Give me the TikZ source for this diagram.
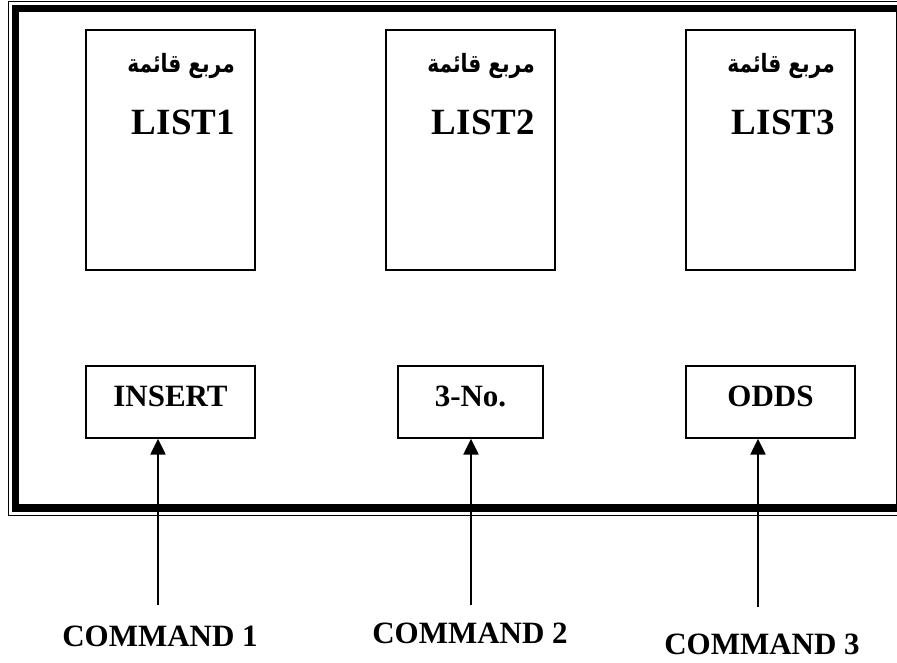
\documentclass[tikz,border=0pt]{standalone}
\usepackage{graphicx}
\usepackage{fontspec}
\setmainfont{Liberation Serif}
\newfontfamily\arabicfont[Script=Arabic]{DejaVu Sans}
\TeXXeTstate=1
\usetikzlibrary{arrows.meta}
\newcommand\arlist{\scalebox{1.12}[1.4]{\arabicfont\bfseries\fontsize{18}{18}\selectfont\beginR مربع قائمة\endR}}
\tikzstyle{listbox}=[draw,line width=1.4pt,minimum width=169pt,minimum height=240pt,inner sep=0pt]
\tikzstyle{cmdbox}=[draw,line width=1.4pt,minimum height=72pt,inner sep=0pt]
\tikzstyle{arname}=[inner sep=0pt,anchor=base east]
\tikzstyle{listname}=[font=\bfseries\fontsize{37}{37}\selectfont,inner sep=0pt,anchor=base east]
\tikzstyle{cmdname}=[font=\bfseries\fontsize{31}{31}\selectfont,inner sep=0pt,anchor=base]
\tikzstyle{cmd}=[line width=2.4pt,-{Triangle[length=16pt,width=15pt]}]
\begin{document}
\begin{tikzpicture}[x=1pt,y=-1pt]
	\useasboundingbox (0,0) rectangle (897,663);
	% frame
	\draw[line width=1pt] (8,2) rectangle (912,515);
	\draw[line width=7.5pt] (15.5,8.5) rectangle (904,508);
	\draw[line width=1pt] (896,12) -- (896,504);
	% lists
	\node[listbox] (list1) at (170.5,150) {};
	\node[listbox] (list2) at (470.5,150) {};
	\node[listbox] (list3) at (770.5,150) {};
	\node[arname] (ar1) at (235,73) {\arlist};
	\node[arname] (ar2) at (535,73) {\arlist};
	\node[arname] (ar3) at (835,73) {\arlist};
	\node[listname] (name1) at (235,135) {LIST1};
	\node[listname] (name2) at (535,135) {LIST2};
	\node[listname] (name3) at (835,135) {LIST3};
	% commands
	\node[cmdbox,minimum width=169pt] (insert) at (170.5,402) {};
	\node[cmdbox,minimum width=145pt] (three) at (470.5,402) {};
	\node[cmdbox,minimum width=169pt] (odds) at (770.5,402) {};
	\node[cmdname] (insertlbl) at (insert.center |- 0,406) {INSERT};
	\node[cmdname] (threelbl) at (three.center |- 0,406) {3-No.};
	\node[cmdname] (oddslbl) at (odds.center |- 0,406) {ODDS};
	\coordinate (c1) at (158,605);
	\coordinate (c2) at (471,605);
	\coordinate (c3) at (758,607);
	\draw[cmd] (c1) -- (c1 |- insert.south);
	\draw[cmd] (c2) -- (c2 |- three.south);
	\draw[cmd] (c3) -- (c3 |- odds.south);
	\node[cmdname] (cmd1) at (160,646) {COMMAND 1};
	\node[cmdname] (cmd2) at (470,643) {COMMAND 2};
	\node[cmdname] (cmd3) at (762,654) {COMMAND 3};
\end{tikzpicture}
\end{document}
